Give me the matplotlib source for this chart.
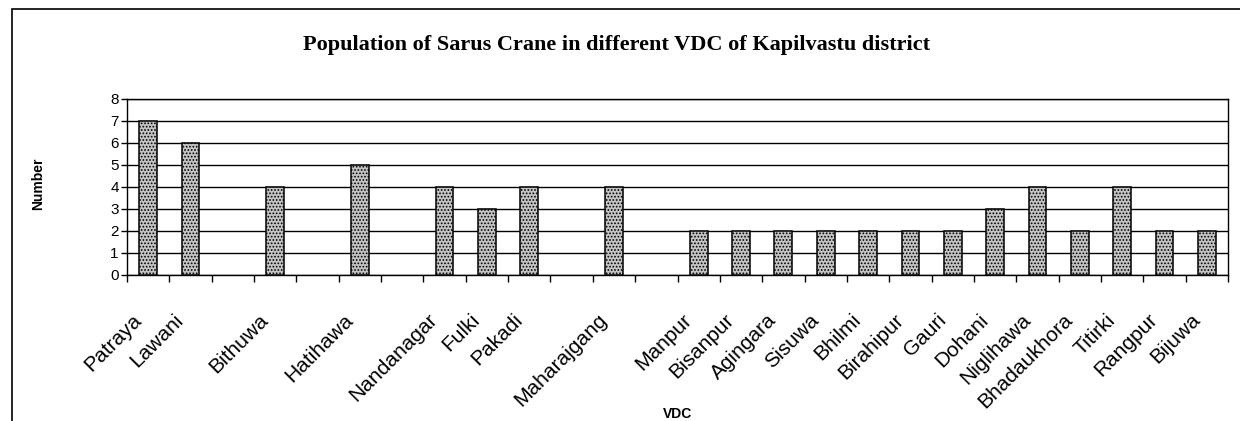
import matplotlib
matplotlib.use("Agg")
import matplotlib.pyplot as plt
from matplotlib.patches import Rectangle
import numpy as np

# Data (blank strings are empty category slots in the original chart)
categories = ["Patraya", "Lawani", "", "Bithuwa", "", "Hatihawa", "", "Nandanagar",
              "Fulki", "Pakadi", "", "Maharajgang", "", "Manpur", "Bisanpur",
              "Agingara", "Sisuwa", "Bhilmi", "Birahipur", "Gauri", "Dohani",
              "Niglihawa", "Bhadaukhora", "Titirki", "Rangpur", "Bijuwa"]
values = [7, 6, 0, 4, 0, 5, 0, 4,
          3, 4, 0, 4, 0, 2, 2,
          2, 2, 2, 2, 2, 3,
          4, 2, 4, 2, 2]
yticks = [0, 1, 2, 3, 4, 5, 6, 7, 8]

W, H = 1240, 421
fig = plt.figure(figsize=(W / 100, H / 100), dpi=100)
fig.patch.set_facecolor("white")

left, right, top, bottom = 127, 1228, 99, 275
ax = fig.add_axes([left / W, 1 - bottom / H, (right - left) / W, (bottom - top) / H])

x = np.arange(len(categories))
mask = [v > 0 for v in values]
plt.rcParams['hatch.linewidth'] = 0.8
ax.bar(x[mask], np.array(values)[mask], width=0.42, color="#c4c4c4",
       edgecolor="black", hatch=".....", linewidth=1.1, zorder=3)

ax.set_xlim(-0.5, len(categories) - 0.5)
ax.set_ylim(0, 8)
ax.set_yticks(yticks)
ax.set_yticklabels([str(t) for t in yticks], fontsize=11, family="Liberation Sans")
ax.yaxis.grid(True, color="black", linewidth=1.0, zorder=0)
ax.set_axisbelow(True)

# x ticks at category boundaries; category labels placed at slot centres
ax.set_xticks(np.arange(len(categories) + 1) - 0.5)
ax.set_xticklabels([])
ax.tick_params(axis="x", which="major", length=5, width=1, direction="out")
ax.tick_params(axis="y", length=4, width=1, direction="out", pad=2)
for i, name in enumerate(categories):
    if name:
        ax.annotate(name, xy=(x[i], 0), xycoords=("data", "axes fraction"),
                    xytext=(-10, -42), textcoords="offset pixels",
                    rotation=45, ha="right", va="center", rotation_mode="anchor",
                    fontsize=15, family="Liberation Sans", annotation_clip=False)

for s in ax.spines.values():
    s.set_linewidth(1.0)
    s.set_color("black")

ax.set_ylabel("Number", fontsize=10, fontweight="bold", family="Liberation Sans")
ax.yaxis.set_label_coords(-0.074, 0.52)
ax.set_xlabel("VDC", fontsize=10, fontweight="bold", family="Liberation Sans")
ax.xaxis.set_label_coords(0.5, -0.75)

fig.text(617 / W, 1 - 45 / H,
         "Population of Sarus Crane in different VDC of Kapilvastu district",
         ha="center", va="center", fontsize=16, fontweight="bold",
         family="Liberation Serif")

# outer chart border (left and top visible)
fig.add_artist(Rectangle((12 / W, -0.05), 1.1, 1 - 9 / H + 0.05,
                         transform=fig.transFigure, fill=False,
                         edgecolor="black", linewidth=1.2))

fig.savefig("out.png", dpi=100)
